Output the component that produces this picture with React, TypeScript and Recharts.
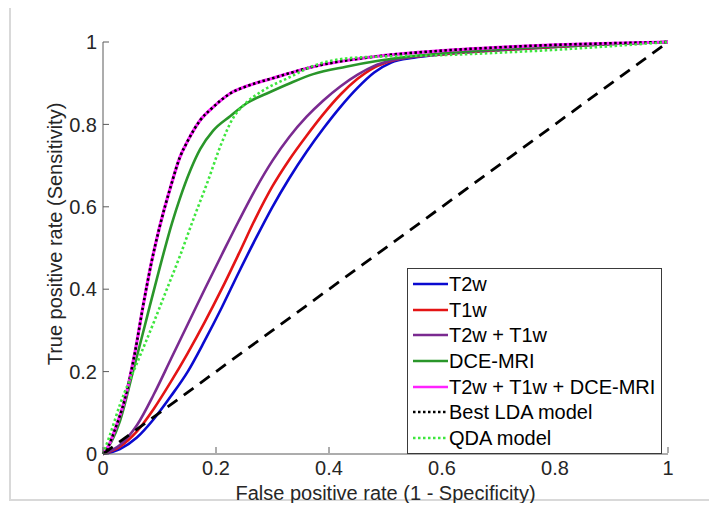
import { LineChart, Line, XAxis, YAxis, Legend, Label } from "recharts";

const ticks = [0, 0.2, 0.4, 0.6, 0.8, 1];

// ROC points as [false positive rate, true positive rate]
const t2w = [
  [0, 0], [0.03, 0.012], [0.06, 0.04], [0.09, 0.085], [0.12, 0.14], [0.15, 0.2],
  [0.18, 0.275], [0.21, 0.355], [0.24, 0.44], [0.27, 0.522], [0.3, 0.6],
  [0.33, 0.67], [0.36, 0.733], [0.39, 0.79], [0.42, 0.842], [0.45, 0.888],
  [0.48, 0.926], [0.51, 0.95], [0.55, 0.962], [0.6, 0.97], [0.7, 0.98],
  [0.8, 0.988], [0.9, 0.995], [1, 1],
];
const t1w = [
  [0, 0], [0.03, 0.018], [0.06, 0.055], [0.09, 0.11], [0.12, 0.175], [0.15, 0.245],
  [0.18, 0.32], [0.21, 0.4], [0.24, 0.485], [0.27, 0.572], [0.3, 0.65],
  [0.33, 0.715], [0.36, 0.772], [0.39, 0.825], [0.42, 0.872], [0.45, 0.91],
  [0.48, 0.938], [0.51, 0.954], [0.55, 0.964], [0.6, 0.97], [0.7, 0.98],
  [0.8, 0.988], [0.9, 0.995], [1, 1],
];
const t2wT1w = [
  [0, 0], [0.03, 0.022], [0.06, 0.07], [0.09, 0.145], [0.12, 0.23], [0.15, 0.315],
  [0.18, 0.4], [0.21, 0.483], [0.24, 0.565], [0.27, 0.643], [0.3, 0.712],
  [0.33, 0.77], [0.36, 0.818], [0.39, 0.858], [0.42, 0.892], [0.45, 0.92],
  [0.48, 0.942], [0.51, 0.955], [0.55, 0.964], [0.6, 0.971], [0.7, 0.981],
  [0.8, 0.989], [0.9, 0.995], [1, 1],
];
const dceMri = [
  [0, 0], [0.015, 0.03], [0.03, 0.08], [0.053, 0.2], [0.07, 0.29], [0.083, 0.36],
  [0.1, 0.45], [0.122, 0.56], [0.136, 0.62], [0.155, 0.69], [0.172, 0.74],
  [0.195, 0.785], [0.225, 0.82], [0.255, 0.852], [0.29, 0.875], [0.331, 0.9],
  [0.372, 0.922], [0.43, 0.94], [0.49, 0.955], [0.55, 0.966], [0.65, 0.978],
  [0.8, 0.99], [0.9, 0.996], [1, 1],
];
const bestLda = [
  [0, 0], [0.01, 0.02], [0.02, 0.055], [0.039, 0.135], [0.057, 0.25], [0.071, 0.36],
  [0.085, 0.46], [0.1, 0.55], [0.12, 0.65], [0.136, 0.72], [0.15, 0.76],
  [0.172, 0.81], [0.195, 0.842], [0.225, 0.875], [0.255, 0.893], [0.3, 0.912],
  [0.372, 0.94], [0.49, 0.966], [0.6, 0.979], [0.7, 0.987], [0.8, 0.993],
  [0.9, 0.997], [1, 1],
];
const qda = [
  [0, 0], [0.012, 0.045], [0.03, 0.12], [0.06, 0.22], [0.09, 0.32], [0.113, 0.4],
  [0.136, 0.48], [0.16, 0.57], [0.185, 0.66], [0.21, 0.755], [0.23, 0.815],
  [0.25, 0.848], [0.283, 0.882], [0.331, 0.915], [0.372, 0.942], [0.43, 0.96],
  [0.5, 0.965], [0.6, 0.968], [0.7, 0.974], [0.8, 0.981], [0.9, 0.99], [1, 1],
];
const chance = [[0, 0], [1, 1]];

const toPts = (arr: number[][]) => arr.map(([x, y]) => ({ x, y }));

const series = [
  { name: "T2w", data: t2w, color: "#0a0ad0", dash: undefined, width: 2.6 },
  { name: "T1w", data: t1w, color: "#e41414", dash: undefined, width: 2.6 },
  { name: "T2w + T1w", data: t2wT1w, color: "#7a2a90", dash: undefined, width: 2.6 },
  { name: "DCE-MRI", data: dceMri, color: "#2a962a", dash: undefined, width: 2.6 },
  { name: "T2w + T1w + DCE-MRI", data: bestLda, color: "#ff22ff", dash: undefined, width: 3.2 },
  { name: "Best LDA model", data: bestLda, color: "#000000", dash: "2.5 2.5", width: 2.6 },
  { name: "QDA model", data: qda, color: "#3ee63e", dash: "2.5 2.5", width: 2.6 },
];

const AXIS = "#5a5a5a";
const TEXT = "#262626";
const FONT = "'Liberation Sans', Arial, sans-serif";
const FS = 20;

function BottomTick({ x, y, payload }: any) {
  return (
    <g>
      <line x1={x} x2={x} y1={y - 8} y2={y - 14} stroke={AXIS} />
      <text x={x} y={y} dy="0.71em" textAnchor="middle" fontSize={FS} fill={TEXT} fontFamily={FONT}>
        {payload.value}
      </text>
    </g>
  );
}

function LeftTick({ x, y, payload }: any) {
  return (
    <g>
      <line x1={x + 6} x2={x + 12} y1={y} y2={y} stroke={AXIS} />
      <text x={x} y={y} dy="0.36em" textAnchor="end" fontSize={FS} fill={TEXT} fontFamily={FONT}>
        {payload.value}
      </text>
    </g>
  );
}

function TopTick({ x, y }: any) {
  return <line x1={x} x2={x} y1={y} y2={y + 6} stroke={AXIS} />;
}

function RightTick({ x, y }: any) {
  return <line x1={x - 6} x2={x} y1={y} y2={y} stroke={AXIS} />;
}

function LegendBox() {
  return (
    <div
      style={{
        border: "1px solid #3a3a3a",
        background: "#fff",
        boxSizing: "border-box",
        width: 255,
        height: 186,
        paddingTop: 2,
        fontFamily: FONT,
        fontSize: FS,
        color: "#000",
      }}
    >
      {series.map((s) => (
        <div key={s.name} style={{ display: "flex", alignItems: "center", height: 25.7 }}>
          <svg width={41} height={6} style={{ flex: "none" }}>
            <line x1={5} x2={40} y1={3} y2={3} stroke={s.color} strokeWidth={2.5} strokeDasharray={s.dash} />
          </svg>
          <span style={{ whiteSpace: "nowrap", lineHeight: 1 }}>{s.name}</span>
        </div>
      ))}
    </div>
  );
}

export default function App() {
  return (
    <div style={{ position: "relative", width: 701, height: 495 }}>
      <div
        style={{
          position: "absolute",
          left: 1,
          top: -4,
          width: 698,
          height: 495,
          borderLeft: "2px solid #d9d9d9",
          borderBottom: "2px solid #d9d9d9",
        }}
      />
      <LineChart width={701} height={495} margin={{ top: 34, right: 41, bottom: 4, left: 35 }}>
        <XAxis
          dataKey="x"
          type="number"
          domain={[0, 1]}
          ticks={ticks}
          tickSize={0}
          tickMargin={7}
          tickLine={false}
          height={45}
          stroke={AXIS}
          tick={<BottomTick />}
        >
          <Label
            content={({ viewBox }: any) => (
              <text
                x={viewBox.x + viewBox.width / 2}
                y={viewBox.y + 39}
                textAnchor="middle"
                dominantBaseline="central"
                fontSize={FS}
                fill={TEXT}
                fontFamily={FONT}
              >
                False positive rate (1 - Specificity)
              </text>
            )}
          />
        </XAxis>
        <XAxis
          xAxisId="top"
          orientation="top"
          dataKey="x"
          type="number"
          domain={[0, 1]}
          ticks={ticks}
          tickSize={0}
          tickMargin={0}
          tickLine={false}
          height={0}
          stroke={AXIS}
          tick={<TopTick />}
        />
        <YAxis
          type="number"
          domain={[0, 1]}
          ticks={ticks}
          tickSize={0}
          tickMargin={6}
          tickLine={false}
          width={60}
          stroke={AXIS}
          tick={<LeftTick />}
        >
          <Label
            content={({ viewBox }: any) => {
              const cx = viewBox.x + 12;
              const cy = viewBox.y + viewBox.height / 2 - 14;
              return (
                <text
                  x={cx}
                  y={cy}
                  transform={`rotate(-90, ${cx}, ${cy})`}
                  textAnchor="middle"
                  dominantBaseline="central"
                  fontSize={FS}
                  fill={TEXT}
                  fontFamily={FONT}
                >
                  True positive rate (Sensitivity)
                </text>
              );
            }}
          />
        </YAxis>
        <YAxis
          yAxisId="right"
          orientation="right"
          type="number"
          domain={[0, 1]}
          ticks={ticks}
          tickSize={0}
          tickMargin={0}
          tickLine={false}
          width={0}
          stroke={AXIS}
          tick={<RightTick />}
        />
        <Legend
          layout="horizontal"
          verticalAlign="middle"
          align="center"
          wrapperStyle={{ left: 399, top: 260, width: 255, height: 186 }}
          content={() => <LegendBox />}
        />
        {series.map((s) => (
          <Line
            key={s.name}
            data={toPts(s.data)}
            dataKey="y"
            name={s.name}
            type="monotone"
            stroke={s.color}
            strokeWidth={s.width}
            strokeDasharray={s.dash}
            dot={false}
            activeDot={false}
            isAnimationActive={false}
          />
        ))}
        <Line
          data={toPts(chance)}
          dataKey="y"
          name="chance"
          type="linear"
          stroke="#000"
          strokeWidth={2.8}
          strokeDasharray="12 8"
          dot={false}
          activeDot={false}
          legendType="none"
          isAnimationActive={false}
        />
      </LineChart>
    </div>
  );
}
